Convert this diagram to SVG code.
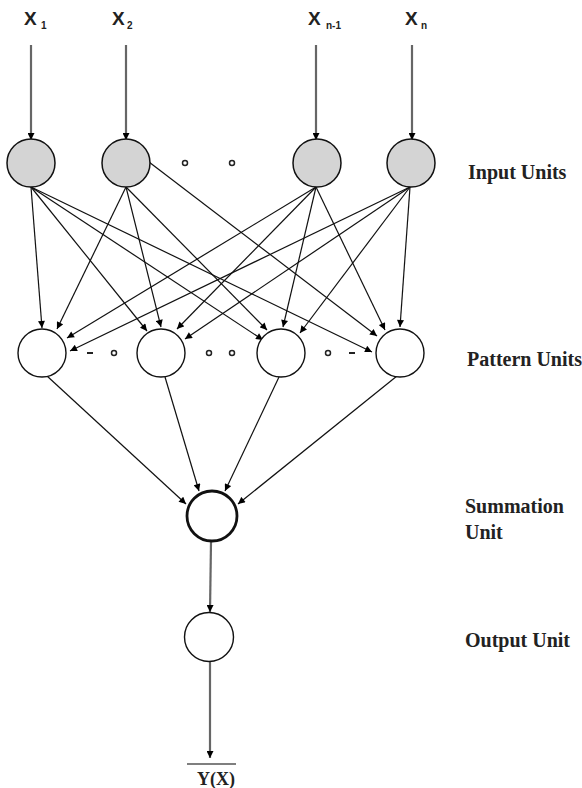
<svg xmlns="http://www.w3.org/2000/svg" width="582" height="788" viewBox="0 0 582 788">
<defs>
<marker id="ah" viewBox="0 0 10 10" refX="10" refY="5" markerWidth="8" markerHeight="7" markerUnits="userSpaceOnUse" orient="auto">
<path d="M0,0 L10,5 L0,10 z" fill="#000"/>
</marker>
</defs>
<style>
.edge{stroke:#111;stroke-width:1.2;fill:none;marker-end:url(#ah)}
.gedge{stroke:#666;stroke-width:2.2;fill:none;marker-end:url(#ah)}
.inp{fill:#d4d4d4;stroke:#111;stroke-width:1.5}
.pat{fill:#fff;stroke:#111;stroke-width:1.4}
.sum{fill:#fff;stroke:#111;stroke-width:2.8}
.lbl{font-family:"Liberation Serif",serif;font-weight:bold;font-size:20px;fill:#222}
.xl{font-family:"Liberation Sans",Arial,sans-serif;font-weight:bold;font-size:19px;fill:#222}
.sub{font-family:"Liberation Sans",Arial,sans-serif;font-weight:bold;font-size:10px;fill:#222}
.dot{fill:none;stroke:#222;stroke-width:1.5}
</style>
<g id="connectors">
<line class="gedge" x1="31" y1="45" x2="31" y2="140"/>
<line class="gedge" x1="126" y1="45" x2="126" y2="140"/>
<line class="gedge" x1="316" y1="45" x2="316" y2="140"/>
<line class="gedge" x1="412" y1="45" x2="412" y2="140"/>
<line class="edge" x1="31" y1="187" x2="42" y2="328"/>
<line class="edge" x1="31" y1="187" x2="147" y2="331"/>
<line class="edge" x1="31" y1="187" x2="263" y2="340"/>
<line class="edge" x1="31" y1="187" x2="372" y2="352"/>
<line class="edge" x1="126" y1="187" x2="57" y2="329"/>
<line class="edge" x1="126" y1="187" x2="161" y2="327"/>
<line class="edge" x1="126" y1="187" x2="267" y2="330"/>
<line class="edge" x1="149" y1="162" x2="377" y2="336"/>
<line class="edge" x1="316" y1="187" x2="67" y2="338"/>
<line class="edge" x1="316" y1="187" x2="177" y2="329"/>
<line class="edge" x1="316" y1="187" x2="283" y2="327"/>
<line class="edge" x1="316" y1="187" x2="385" y2="330"/>
<line class="edge" x1="410" y1="187" x2="70" y2="351"/>
<line class="edge" x1="410" y1="187" x2="185" y2="339"/>
<line class="edge" x1="410" y1="187" x2="300" y2="333"/>
<line class="edge" x1="410" y1="187" x2="400" y2="327"/>
<line class="edge" x1="47" y1="376" x2="186" y2="504"/>
<line class="edge" x1="165" y1="377" x2="199" y2="491"/>
<line class="edge" x1="279" y1="377" x2="225" y2="491"/>
<line class="edge" x1="397" y1="376" x2="238" y2="504"/>
<line class="gedge" x1="211" y1="542" x2="210" y2="612"/>
<line class="gedge" x1="210" y1="662" x2="210" y2="758"/>
</g>
<g id="label-x1"><text class="xl" x="24" y="25">X</text><text class="sub" x="41" y="29">1</text></g>
<g id="label-x2"><text class="xl" x="112" y="25">X</text><text class="sub" x="127" y="29">2</text></g>
<g id="label-xn1"><text class="xl" x="308" y="25">X</text><text class="sub" x="326" y="29">n-1</text></g>
<g id="label-xn"><text class="xl" x="405" y="25">X</text><text class="sub" x="421" y="29">n</text></g>
<g id="input1"><circle class="inp" cx="31" cy="163" r="24"/></g>
<g id="input2"><circle class="inp" cx="126" cy="163" r="24"/></g>
<g id="input3"><circle class="inp" cx="317" cy="163" r="24"/></g>
<g id="input4"><circle class="inp" cx="411" cy="163" r="24"/></g>
<g id="input-dots"><circle class="dot" cx="185" cy="163" r="2.5"/><circle class="dot" cx="232" cy="163" r="2.5"/></g>
<g id="pattern1"><circle class="pat" cx="42" cy="353" r="24"/></g>
<g id="pattern2"><circle class="pat" cx="161" cy="353" r="24"/></g>
<g id="pattern3"><circle class="pat" cx="281" cy="353" r="24"/></g>
<g id="pattern4"><circle class="pat" cx="400" cy="353" r="24"/></g>
<g id="pattern-dots">
<line x1="87" y1="353" x2="93" y2="353" stroke="#222" stroke-width="2"/>
<circle class="dot" cx="114" cy="353" r="2.5"/>
<circle class="dot" cx="209" cy="353" r="2.5"/>
<circle class="dot" cx="232" cy="353" r="2.5"/>
<circle class="dot" cx="328" cy="353" r="2.5"/>
<line x1="349" y1="353" x2="355" y2="353" stroke="#222" stroke-width="2"/>
</g>
<g id="summation"><circle class="sum" cx="212" cy="516" r="25"/></g>
<g id="output"><circle class="pat" cx="209" cy="637" r="24.5"/></g>
<g id="result">
<line x1="187" y1="764" x2="236" y2="764" stroke="#555" stroke-width="1.5"/>
<text x="197" y="785" font-family="Liberation Serif,serif" font-weight="bold" font-size="18" fill="#222">Y(X)</text>
</g>
<g id="labels">
<text class="lbl" x="468" y="179">Input Units</text>
<text class="lbl" x="467" y="366">Pattern Units</text>
<text class="lbl" x="465" y="513">Summation</text>
<text class="lbl" x="465" y="539">Unit</text>
<text class="lbl" x="465" y="647">Output Unit</text>
</g>
</svg>
